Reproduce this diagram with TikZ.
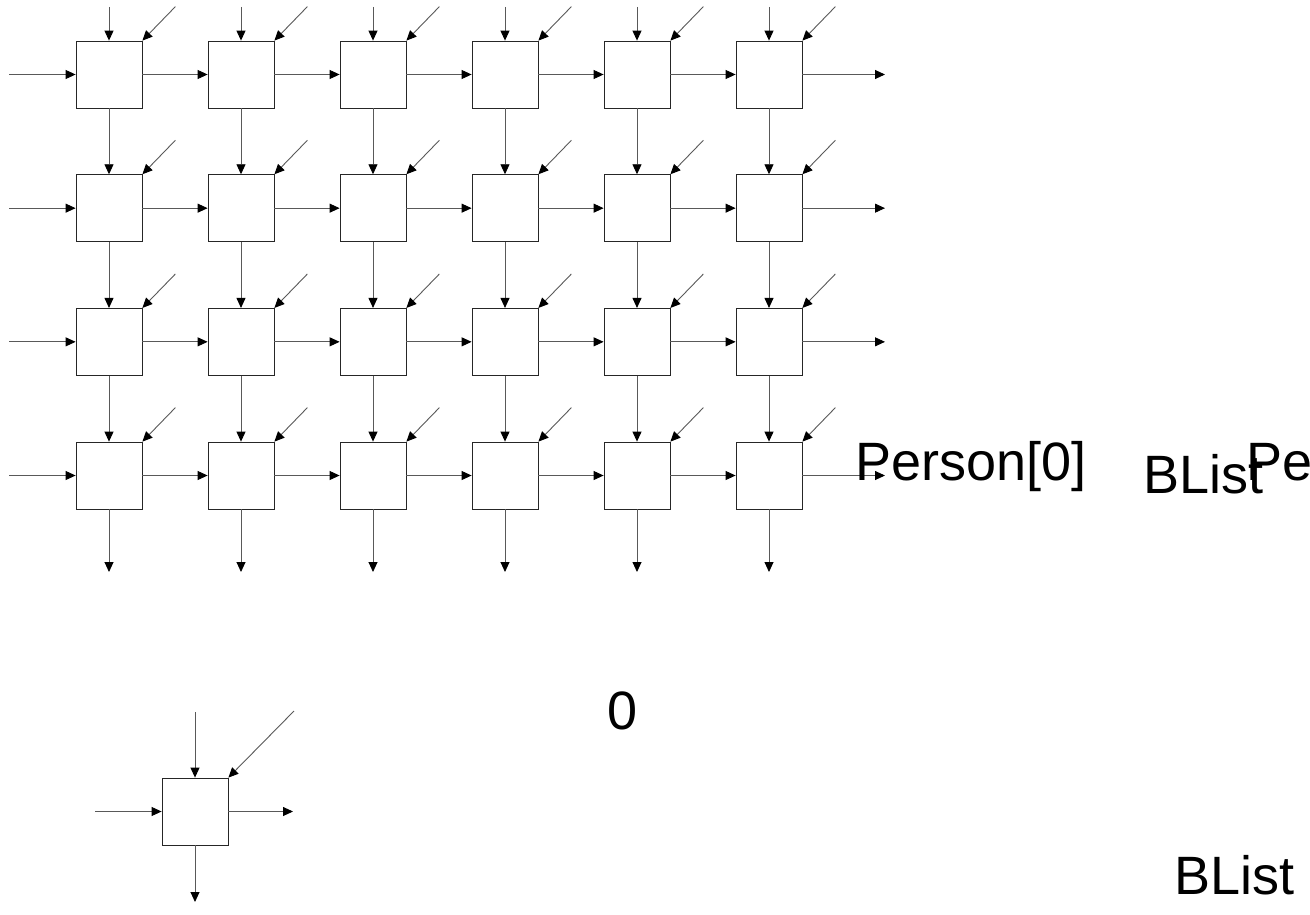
\documentclass[tikz,border=0pt]{standalone}
\usepackage{fontspec}
\setmainfont{Liberation Sans}
\usetikzlibrary{arrows.meta}
\tikzset{
  cell/.style = {draw=black!85, fill=white, line width=0.8pt, minimum width=66pt, minimum height=67pt, inner sep=0pt},
  flow/.style = {draw=black!65, line width=0.9pt, -{Triangle[length=10pt,width=9pt,color=black]}},
  big/.style = {font=\fontsize{54}{60}\selectfont, inner sep=0pt, anchor=base west}
}
\begin{document}
\begin{tikzpicture}[x=1pt,y=-1pt]
  \useasboundingbox (0,0) rectangle (1310,915);
  \clip (0,0) rectangle (1310,915);
  % the array of cells
  \foreach \r in {1,...,4} {
    \foreach \c in {1,...,6} {
      \node[cell] (c\r\c) at ({109+132*(\c-1)},{74.5+133.67*(\r-1)}) {};
      \coordinate (d\r\c) at ([shift={(33,-34)}]c\r\c.north east);
      \draw[flow] (d\r\c) -- (c\r\c.north east);
    }
  }
  % inputs on top, outputs below
  \foreach \c in {1,...,6} {
    \coordinate (t\c) at ({109+132*(\c-1)},7);
    \coordinate (b\c) at ({109+132*(\c-1)},572);
    \draw[flow] (t\c) -- (c1\c.north);
    \draw[flow] (c4\c.south) -- (b\c);
    \foreach \r [evaluate=\r as \n using int(\r+1)] in {1,2,3} {
      \draw[flow] (c\r\c.south) -- (c\n\c.north);
    }
  }
  % rows left to right
  \foreach \r in {1,...,4} {
    \coordinate (l\r) at (9,{74.5+133.67*(\r-1)});
    \coordinate (o\r) at (885,{74.5+133.67*(\r-1)});
    \draw[flow] (l\r) -- (c\r1.west);
    \draw[flow] (c\r6.east) -- (o\r);
    \foreach \c [evaluate=\c as \n using int(\c+1)] in {1,...,5} {
      \draw[flow] (c\r\c.east) -- (c\r\n.west);
    }
  }
  % labels
  \node[big] (person) at (855,480) {Person[0]};
  \node[big] (blist) at (1143,493) {BList};
  \node[big] (pe) at (1246,480) {Pe};
  \node[big] (zero) at (607,729) {0};
  \node[big] (blist2) at (1174,894) {BList};
  % single cell
  \node[cell] (s) at (195,811.5) {};
  \coordinate (sn) at (195,712);
  \coordinate (sd) at (294,711);
  \coordinate (sw) at (95,811.5);
  \coordinate (se) at (293,811.5);
  \coordinate (ss) at (195,902);
  \draw[flow] (sn) -- (s.north);
  \draw[flow] (sd) -- (s.north east);
  \draw[flow] (sw) -- (s.west);
  \draw[flow] (s.east) -- (se);
  \draw[flow] (s.south) -- (ss);
\end{tikzpicture}
\end{document}
